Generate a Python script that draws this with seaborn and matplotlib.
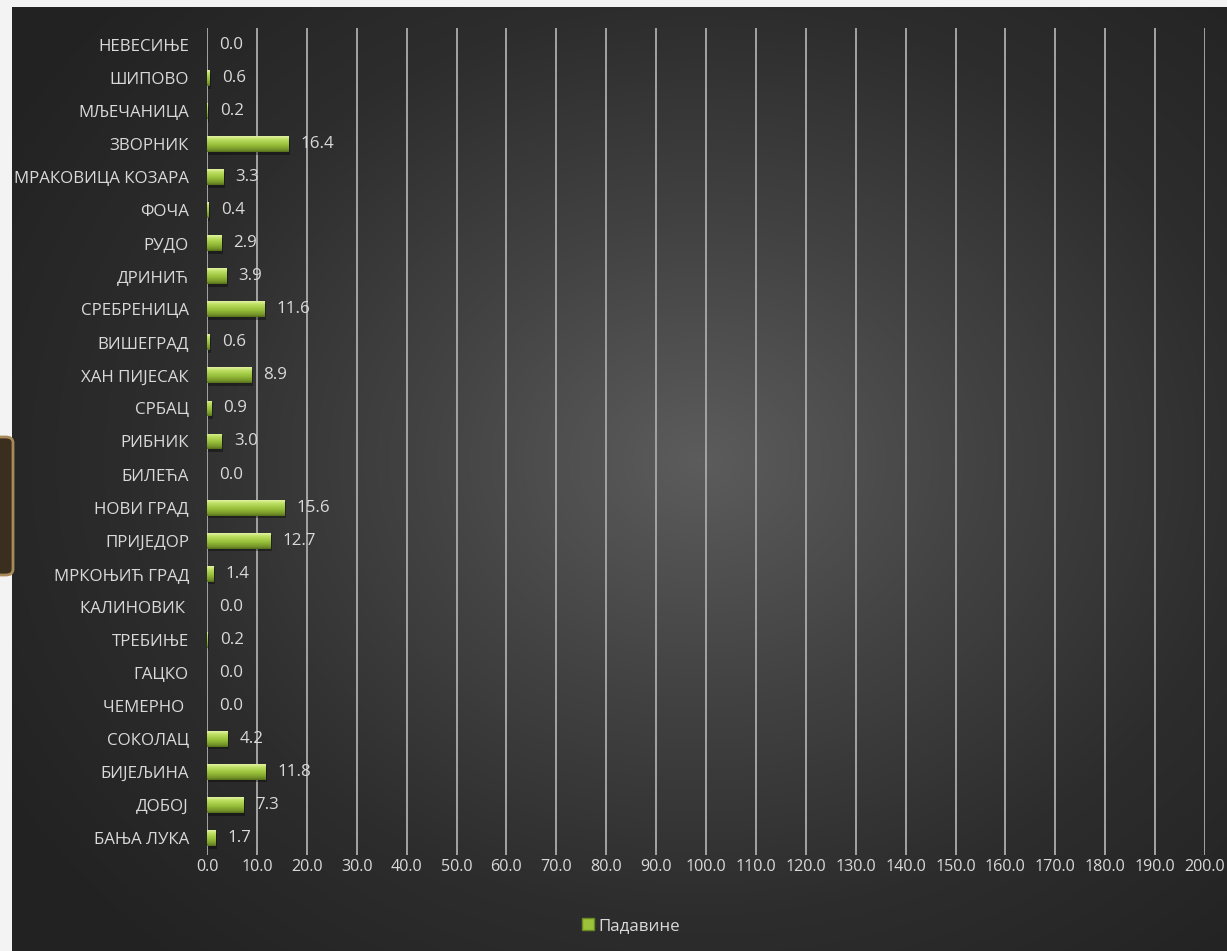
import numpy as np
import matplotlib
matplotlib.use("Agg")
import matplotlib.pyplot as plt
import seaborn as sns
import pandas as pd
from matplotlib.patches import FancyBboxPatch, Rectangle
from matplotlib.colors import LinearSegmentedColormap

# ---------------- data ----------------
stations = ["НЕВЕСИЊЕ", "ШИПОВО", "МЉЕЧАНИЦА", "ЗВОРНИК", "МРАКОВИЦА КОЗАРА",
            "ФОЧА", "РУДО", "ДРИНИЋ", "СРЕБРЕНИЦА", "ВИШЕГРАД", "ХАН ПИЈЕСАК",
            "СРБАЦ", "РИБНИК", "БИЛЕЋА", "НОВИ ГРАД", "ПРИЈЕДОР", "МРКОЊИЋ ГРАД",
            "КАЛИНОВИК ", "ТРЕБИЊЕ", "ГАЦКО", "ЧЕМЕРНО ", "СОКОЛАЦ", "БИЈЕЉИНА",
            "ДОБОЈ", "БАЊА ЛУКА"]
values = [0.0, 0.6, 0.2, 16.4, 3.3, 0.4, 2.9, 3.9, 11.6, 0.6, 8.9, 0.9, 3.0,
          0.0, 15.6, 12.7, 1.4, 0.0, 0.2, 0.0, 0.0, 4.2, 11.8, 7.3, 1.7]
series_name = "Падавине"
xticks = list(range(0, 201, 10))
xtick_labels = [f"{t:.1f}" for t in xticks]

# ---------------- style ----------------
W, H = 1227, 951
sns.set_theme(style="dark")
plt.rcParams['font.family'] = ['Open Sans', 'DejaVu Sans']
TXT = '#d9d9d9'
FS = 12.2

fig = plt.figure(figsize=(W / 100, H / 100), dpi=100, facecolor='#f3f3f3')

# radial dark background
bg = fig.add_axes([12 / W, 0, 1 - 12 / W, 1 - 7 / H], zorder=0)
bh, bw = H - 7, W - 12
yy, xx = np.mgrid[0:bh, 0:bw]
cx, cy = 700 - 12, 460 - 7
r = np.sqrt(((xx - cx) / 820.0) ** 2 + ((yy - cy) / 680.0) ** 2)
r = np.clip(r, 0, 1)
bgcmap = LinearSegmentedColormap.from_list('bg', ['#5c5c5c', '#434343', '#2d2d2d', '#222222'])
bg.imshow(r, cmap=bgcmap, aspect='auto', interpolation='bilinear')
bg.axis('off')

# left decorative fragment
frag = FancyBboxPatch((-12 / W, 1 - 575 / H), 25 / W, 138 / H,
                      boxstyle="round,pad=0,rounding_size=0.006",
                      transform=fig.transFigure, facecolor='#3a2e1f',
                      edgecolor='#a88a58', lw=2.0, zorder=0.5)
fig.patches.append(frag)

# main axes
top_px, bot_px = 28.5, 854.5
ax = fig.add_axes([207 / W, 1 - bot_px / H, (1205 - 207) / W, (bot_px - top_px) / H], zorder=1)
ax.patch.set_alpha(0)

df = pd.DataFrame({'station': stations, 'value': values})
sns.barplot(data=df, x='value', y='station', orient='h', color='#9cc23c',
            width=0.48, ax=ax, saturation=1, edgecolor='none')

ax.set_xlim(0, 200)
ax.set_ylim(len(stations) - 0.5, -0.5)

# gradient fill for bars
grad_cmap = LinearSegmentedColormap.from_list(
    'bar', [(0, '#e2f3a2'), (0.2, '#bddf62'), (0.55, '#98c03a'), (0.85, '#76962a'), (1, '#566f1a')])
grad = np.linspace(0, 1, 64).reshape(-1, 1)
for p in list(ax.patches):
    x0, y0 = p.get_x(), p.get_y()
    w, h = p.get_width(), p.get_height()
    if w <= 0:
        continue
    sh = Rectangle((x0 + 0.25, y0 + 0.08), w, h, facecolor='black', alpha=0.35,
                   edgecolor='none', zorder=1.5)
    ax.add_patch(sh)
    p.set_zorder(2)
    im = ax.imshow(grad, cmap=grad_cmap, aspect='auto', origin='upper',
                   extent=(x0, x0 + w, y0 + h, y0), zorder=2.5, interpolation='bilinear')
    im.set_clip_path(p)
ax.set_xlim(0, 200)
ax.set_ylim(len(stations) - 0.5, -0.5)
ax.set_aspect('auto')

# value labels
for i, v in enumerate(values):
    ax.annotate(f"{v:.1f}", xy=(v, i), xytext=(8.5, 0), textcoords='offset points',
                ha='left', va='center', color=TXT, fontsize=FS, zorder=3)

# axes styling
ax.set_xticks(xticks)
ax.set_xticklabels(xtick_labels)
ax.xaxis.grid(True, color='#a4a4a4', lw=1.4)
ax.yaxis.grid(False)
ax.set_axisbelow(True)
for s in ax.spines.values():
    s.set_visible(False)
ax.tick_params(axis='x', length=0, pad=3, labelsize=11.6, labelcolor=TXT)
ax.tick_params(axis='y', length=0, pad=13, labelsize=FS, labelcolor=TXT)
ax.set_xlabel("")
ax.set_ylabel("")

# legend
handle = Rectangle((0, 0), 1, 1, facecolor='#9cc23c', edgecolor='#6a8a20', lw=1)
fig.legend(handles=[handle], labels=[series_name], loc='center',
           bbox_to_anchor=(631 / W, 1 - 926 / H), frameon=False, labelcolor=TXT,
           fontsize=FS, handlelength=0.7, handleheight=0.7, handletextpad=0.3)

fig.savefig("out.png", dpi=100, facecolor=fig.get_facecolor())
